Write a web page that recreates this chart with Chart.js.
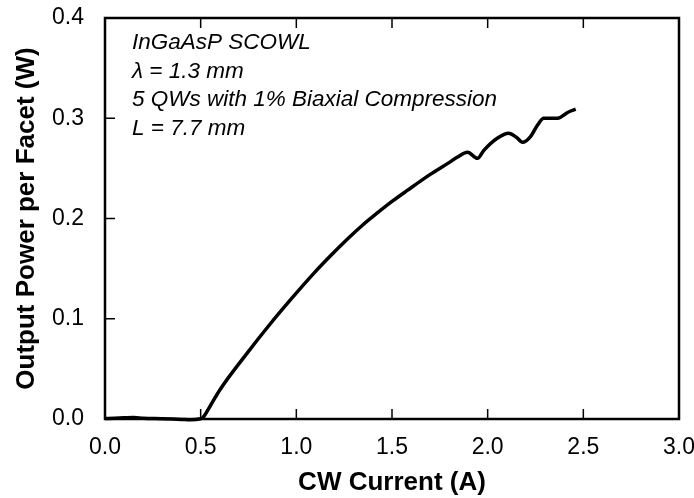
<!DOCTYPE html>
<html>
<head>
<meta charset="utf-8">
<script src="https://cdn.jsdelivr.net/npm/chart.js@4/dist/chart.umd.min.js"></script>
<style>
  html, body { margin:0; padding:0; background:#fff; }
  #wrap { width:694px; height:498px; }
</style>
</head>
<body>
<div id="wrap"><canvas id="plot" width="694" height="498"></canvas></div>
<script>
// ── Data ─────────────────────────────────────────────────
const CURRENT = [0, 0.05, 0.1, 0.15, 0.2, 0.3, 0.4, 0.45, 0.5, 0.51, 0.55, 0.6, 0.74,
  0.86, 0.97, 1.09, 1.18, 1.27, 1.35, 1.42, 1.5, 1.58, 1.7, 1.8, 1.84, 1.895, 1.947,
  1.98, 2.05, 2.11, 2.15, 2.183, 2.225, 2.26, 2.293, 2.366, 2.42, 2.46];
const POWER   = [0.0005, 0.0008, 0.0012, 0.0015, 0.0008, 0.0003, -0.0005, -0.0008, 0.0003, 0.001,
  0.013, 0.029, 0.065, 0.094, 0.119, 0.145, 0.163, 0.180, 0.194, 0.205, 0.217,
  0.228, 0.244, 0.256, 0.261, 0.266, 0.260, 0.268, 0.280, 0.285, 0.281, 0.276, 0.282, 0.293,
  0.300, 0.300, 0.306, 0.309];

const X_TICKS = [0, 0.5, 1.0, 1.5, 2.0, 2.5, 3.0];
const Y_TICKS = [0, 0.1, 0.2, 0.3, 0.4];

const NOTES = [
  "InGaAsP SCOWL",
  "\u03bb = 1.3 mm",
  "5 QWs with 1% Biaxial Compression",
  "L = 7.7 mm"
];

const FONT = "'Liberation Sans', Arial, Helvetica, sans-serif";

// ── Frame, inward ticks and annotation ───────────────────
const framePlugin = {
  id: "frame",
  afterDraw(chart) {
    const { ctx, chartArea: a, scales } = chart;
    ctx.save();
    ctx.strokeStyle = "#000";
    ctx.lineWidth = 1.5;
    ctx.beginPath();
    X_TICKS.slice(1, -1).forEach(v => {
      const px = scales.x.getPixelForValue(v);
      ctx.moveTo(px, a.bottom); ctx.lineTo(px, a.bottom - 10);
      ctx.moveTo(px, a.top);    ctx.lineTo(px, a.top + 10);
    });
    Y_TICKS.slice(1, -1).forEach(v => {
      const py = scales.y.getPixelForValue(v);
      ctx.moveTo(a.left, py); ctx.lineTo(a.left + 10, py);
    });
    ctx.stroke();
    ctx.lineWidth = 2.5;
    ctx.strokeRect(a.left, a.top, a.right - a.left, a.bottom - a.top);

    ctx.fillStyle = "#000";
    ctx.font = "italic 22.5px " + FONT;
    ctx.textBaseline = "middle";
    NOTES.forEach((t, i) => ctx.fillText(t, a.left + 27, a.top + 25 + i * 28.5));
    ctx.restore();
  }
};

new Chart(document.getElementById("plot").getContext("2d"), {
  type: "scatter",
  data: {
    datasets: [{
      data: CURRENT.map((x, i) => ({ x, y: POWER[i] })),
      showLine: true,
      borderColor: "#000",
      borderWidth: 3.5,
      pointRadius: 0,
      cubicInterpolationMode: "monotone",
      clip: 4
    }]
  },
  options: {
    responsive: false,
    animation: false,
    layout: { padding: { top: 18, right: 15, left: 0, bottom: 0 } },
    plugins: { legend: { display: false }, tooltip: { enabled: false } },
    scales: {
      x: {
        type: "linear", min: 0, max: 3,
        afterFit: s => { s.height = 79; s.paddingLeft = 0; s.paddingRight = 0; },
        afterBuildTicks: s => { s.ticks = X_TICKS.map(v => ({ value: v })); },
        grid: { display: false },
        border: { display: false },
        ticks: { color: "#000", padding: 7, maxRotation: 0,
          font: { family: FONT, size: 23 }, callback: v => v.toFixed(1) },
        title: { display: true, text: "CW Current (A)", color: "#000",
          padding: { top: 0, bottom: 0 },
          font: { family: FONT, size: 26, weight: "bold" } }
      },
      y: {
        min: 0, max: 0.4,
        afterFit: s => { s.width = 105; s.paddingTop = 0; s.paddingBottom = 0; },
        afterBuildTicks: s => { s.ticks = Y_TICKS.map(v => ({ value: v })); },
        grid: { display: false },
        border: { display: false },
        ticks: { color: "#000", padding: 13,
          font: { family: FONT, size: 23 }, callback: v => v.toFixed(1) },
        title: { display: true, text: "Output Power per Facet (W)", color: "#000",
          padding: { top: 11, bottom: 0 },
          font: { family: FONT, size: 26, weight: "bold" } }
      }
    }
  },
  plugins: [framePlugin]
});
</script>
</body>
</html>
